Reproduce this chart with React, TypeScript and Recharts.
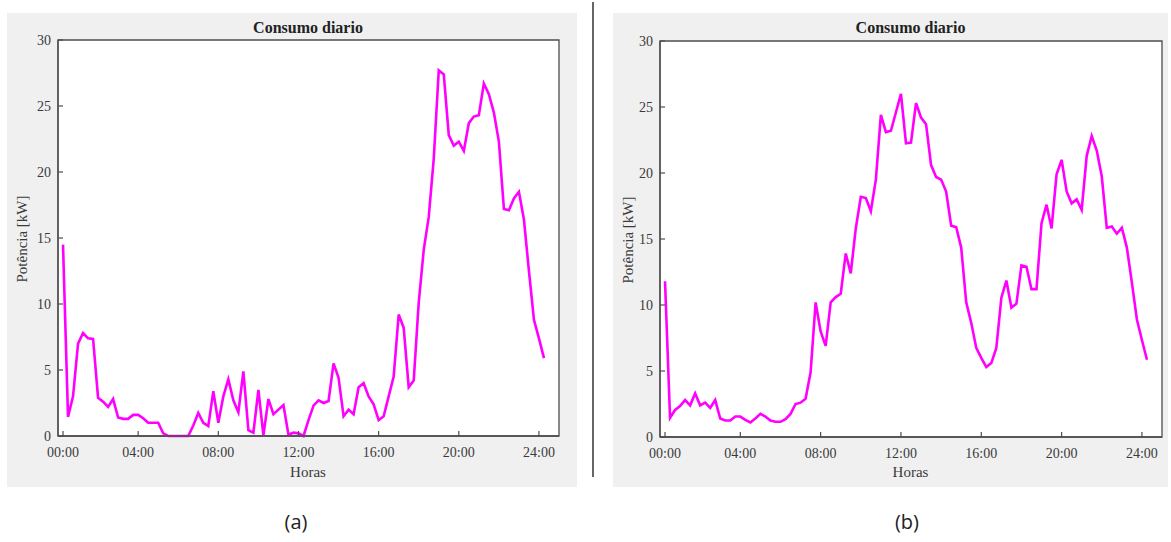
import React from "react";
import { CartesianGrid, Line, LineChart, ReferenceArea, XAxis, YAxis } from "recharts";

// 15-minute samples, first sample plotted at the "00:00" tick
const STEP_H = 0.25;

const seriesA = [
  14.5, 1.45, 3.0, 7.0,
  7.8, 7.4, 7.35, 2.9,
  2.6, 2.2, 2.8, 1.4,
  1.3, 1.3, 1.6, 1.6,
  1.35, 1.0, 1.0, 1.0,
  0.2, 0, 0, 0,
  0, 0, 0.8, 1.75,
  1.0, 0.75, 3.4, 1.0,
  3.0, 4.3, 2.7, 1.8,
  4.9, 0.45, 0.25, 3.5,
  0.05, 2.8, 1.65, 2.0,
  2.35, 0.1, 0.25, 0.2,
  0, 1.2, 2.3, 2.7,
  2.5, 2.65, 5.5, 4.4,
  1.5, 2.0, 1.65, 3.7,
  4.0, 3.0, 2.4, 1.2,
  1.5, 3.0, 4.5, 9.2,
  8.2, 3.7, 4.2, 10.1,
  14.1, 16.6, 21.0, 27.7,
  27.4, 22.8, 22.0, 22.3,
  21.6, 23.7, 24.2, 24.3,
  26.7, 25.9, 24.5, 22.3,
  17.2, 17.1, 18.0, 18.5,
  16.4, 12.5, 8.8, 7.4,
  5.9,
];

const seriesB = [
  11.8, 1.45, 2.05, 2.35,
  2.8, 2.4, 3.3, 2.4,
  2.6, 2.2, 2.8, 1.4,
  1.25, 1.25, 1.55, 1.55,
  1.3, 1.1, 1.4, 1.75,
  1.55, 1.25, 1.15, 1.15,
  1.35, 1.75, 2.5, 2.6,
  2.9, 4.9, 10.2, 8.0,
  6.9, 10.2, 10.6, 10.85,
  13.9, 12.4, 15.8, 18.2,
  18.1, 17.1, 19.5, 24.4,
  23.1, 23.2, 24.6, 26.0,
  22.25, 22.3, 25.3, 24.2,
  23.7, 20.6, 19.7, 19.5,
  18.6, 16.0, 15.9, 14.35,
  10.2, 8.65, 6.75, 6.0,
  5.3, 5.6, 6.75, 10.55,
  11.85, 9.8, 10.1, 13.0,
  12.9, 11.2, 11.2, 16.2,
  17.6, 15.8, 19.9, 21.0,
  18.6, 17.7, 18.0, 17.2,
  21.3, 22.8, 21.7, 19.75,
  15.85, 15.95, 15.4, 15.85,
  14.35, 11.7, 8.9, 7.35,
  5.85,
];

const xTickPos = [0.25, 4, 8, 12, 16, 20, 24];
const xTickLabels = ["00:00", "04:00", "08:00", "12:00", "16:00", "20:00", "24:00"];
const yTicks = [0, 5, 10, 15, 20, 25, 30];

const SERIF = '"Liberation Serif", "DejaVu Serif", serif';
const AXIS = "#4d4d4d";
const TEXT = "#3a3a3a";
const MAGENTA = "#ff00ff";

const toRows = (vals: number[]) => vals.map((v, i) => ({ h: STEP_H + i * STEP_H, v }));

const BottomTick = (props: any) => {
  const { x, y, payload } = props;
  const idx = xTickPos.indexOf(payload.value);
  return (
    <g>
      <line x1={x} y1={y} x2={x} y2={y - 5} stroke={AXIS} strokeWidth={1.2} />
      <text x={x} y={y + 21} textAnchor="middle" fill={TEXT} fontSize={14} fontFamily={SERIF}>
        {xTickLabels[idx]}
      </text>
    </g>
  );
};

const LeftTick = (props: any) => {
  const { x, y, payload } = props;
  return (
    <g>
      <line x1={x} y1={y} x2={x + 5} y2={y} stroke={AXIS} strokeWidth={1.2} />
      <text x={x - 7} y={y + 5} textAnchor="end" fill={TEXT} fontSize={14} fontFamily={SERIF}>
        {payload.value}
      </text>
    </g>
  );
};

interface PanelProps {
  values: number[];
  left: number;
  width: number;
  margin: { top: number; right: number; left: number; bottom: number };
  yAxisWidth: number;
  xAxisHeight: number;
}

function Panel({ values, left, width, margin, yAxisWidth, xAxisHeight }: PanelProps) {
  const height = 474;
  const plotLeft = yAxisWidth;
  const plotRight = width - margin.right - 1;
  const plotTop = margin.top + 1;
  const plotBottom = height - xAxisHeight;
  const cx = (plotLeft + plotRight) / 2;
  const cy = (plotTop + plotBottom) / 2;
  return (
    <div style={{ position: "absolute", left, top: 13, width, height, background: "#f0f0f0" }}>
      <LineChart width={width} height={height} data={toRows(values)} margin={margin}>
        <CartesianGrid horizontal={false} vertical={false} fill="#ffffff" />
        <XAxis
          dataKey="h"
          type="number"
          domain={[0, 25]}
          ticks={xTickPos}
          interval={0}
          height={xAxisHeight}
          tickSize={0}
          tickMargin={0}
          tickLine={false}
          tick={<BottomTick />}
          axisLine={{ stroke: AXIS, strokeWidth: 1.3 }}
        />
        <XAxis
          xAxisId="t"
          orientation="top"
          mirror
          dataKey="h"
          type="number"
          domain={[0, 25]}
          ticks={xTickPos}
          interval={0}
          height={1}
          tickSize={5}
          tick={false}
          tickLine={{ stroke: AXIS, strokeWidth: 1.2 }}
          axisLine={false}
        />
        <YAxis
          domain={[0, 30]}
          ticks={yTicks}
          interval={0}
          width={yAxisWidth}
          tickSize={0}
          tickMargin={0}
          tickLine={false}
          tick={<LeftTick />}
          axisLine={{ stroke: AXIS, strokeWidth: 1.3 }}
        />
        <YAxis
          yAxisId="r"
          orientation="right"
          mirror
          domain={[0, 30]}
          ticks={yTicks}
          interval={0}
          width={1}
          tickSize={5}
          tick={false}
          tickLine={{ stroke: AXIS, strokeWidth: 1.2 }}
          axisLine={false}
        />
        <Line
          dataKey="v"
          type="linear"
          stroke={MAGENTA}
          strokeWidth={2.6}
          dot={false}
          isAnimationActive={false}
        />
        <ReferenceArea
          x1={0}
          x2={25}
          y1={0}
          y2={30}
          fill="none"
          stroke={AXIS}
          strokeWidth={1.3}
          ifOverflow="visible"
        />
      </LineChart>
      <div
        style={{
          position: "absolute", left: cx - 100, width: 200, top: 6, textAlign: "center",
          fontFamily: SERIF, fontWeight: "bold", fontSize: 16, color: "#222",
        }}
      >
        Consumo diario
      </div>
      <div
        style={{
          position: "absolute", left: 15 - 100, top: cy - 10, width: 200, height: 20, lineHeight: "20px",
          textAlign: "center", transform: "rotate(-90deg)",
          fontFamily: SERIF, fontSize: 15, color: TEXT, whiteSpace: "nowrap",
        }}
      >
        Potência [kW]
      </div>
      <div
        style={{
          position: "absolute", left: cx - 50, width: 100, top: 451, textAlign: "center",
          fontFamily: SERIF, fontSize: 15, color: TEXT,
        }}
      >
        Horas
      </div>
    </div>
  );
}

export default function App() {
  return (
    <div style={{ position: "absolute", left: 0, top: 0, width: 1171, height: 542, background: "#fff" }}>
      <Panel
        values={seriesA}
        left={7}
        width={570}
        margin={{ top: 27, right: 18, left: 0, bottom: 0 }}
        yAxisWidth={51}
        xAxisHeight={51}
      />
      <Panel
        values={seriesB}
        left={613}
        width={555}
        margin={{ top: 28, right: 6, left: 0, bottom: 0 }}
        yAxisWidth={47}
        xAxisHeight={50}
      />
      <div style={{ position: "absolute", left: 592, top: 2, width: 2, height: 475, background: "#666" }} />
      <div
        style={{
          position: "absolute", left: 246, width: 100, top: 508, textAlign: "center",
          fontFamily: '"Open Sans", sans-serif', fontSize: 20, color: "#222",
        }}
      >
        (a)
      </div>
      <div
        style={{
          position: "absolute", left: 857, width: 100, top: 508, textAlign: "center",
          fontFamily: '"Open Sans", sans-serif', fontSize: 20, color: "#222",
        }}
      >
        (b)
      </div>
    </div>
  );
}
